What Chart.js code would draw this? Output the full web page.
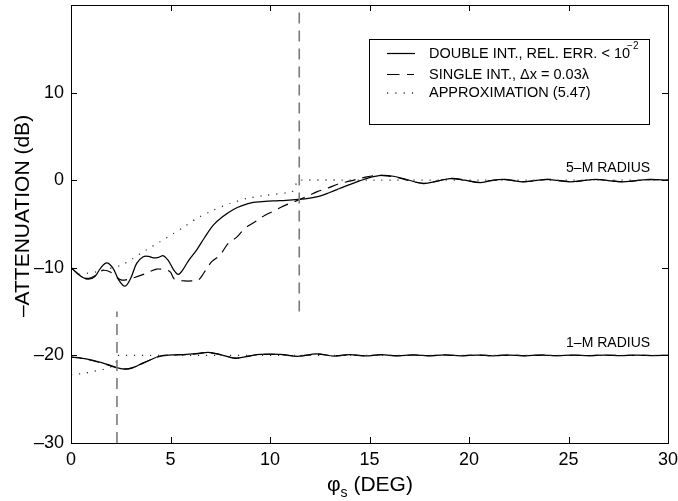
<!DOCTYPE html>
<html>
<head>
<meta charset="utf-8">
<script src="https://cdn.jsdelivr.net/npm/chart.js@4/dist/chart.umd.min.js"></script>
<style>
  html, body { margin: 0; padding: 0; background: #fff; }
  #wrap { width: 678px; height: 501px; }
</style>
</head>
<body>
<div id="wrap"><canvas id="c" width="678" height="501"></canvas></div>
<script>
// Attenuation vs. scan angle phi_s for the 5-m and 1-m radius cases.

// 5-m radius, double integral
const phiDouble5 = [0, 0.3, 0.6, 0.87, 1.2, 1.5, 1.79, 2.1, 2.4, 2.71, 3.0, 3.3, 3.63, 3.9, 4.14, 4.4, 4.64, 4.9, 5.15, 5.39, 5.6, 5.9, 6.31, 6.7, 7.15, 7.6, 8.16, 8.6, 9.16, 9.6, 10.17, 10.8, 11.42, 12.0, 12.5, 13.0, 13.5, 14.0, 14.5, 15.0, 15.6, 16.2, 16.9, 17.7, 18.4, 19.05, 19.8, 20.55, 21.1, 21.7, 22.2, 22.7, 23.3, 23.9, 24.5, 25.1, 25.7, 26.4, 27.0, 27.7, 28.4, 29.1, 30];
const attDouble5 = [-9.96, -10.6, -11.1, -11.3, -11.0, -10.0, -9.43, -10.0, -11.4, -12.1, -11.2, -9.5, -8.74, -8.7, -8.86, -8.8, -8.63, -9.2, -10.2, -10.76, -10.3, -9.2, -7.98, -6.6, -5.13, -4.2, -3.34, -2.9, -2.54, -2.45, -2.36, -2.3, -2.2, -2.05, -1.82, -1.4, -0.95, -0.5, -0.08, 0.3, 0.55, 0.45, 0.05, -0.38, -0.1, 0.19, 0.0, -0.27, -0.05, 0.08, -0.05, -0.19, -0.05, 0.1, -0.05, -0.19, -0.05, 0.08, -0.05, -0.19, -0.05, 0.08, 0.0];

// 5-m radius, single integral
const phiSingle5 = [0, 0.3, 0.6, 0.9, 1.2, 1.6, 2.0, 2.3, 2.55, 2.9, 3.2, 3.7, 4.0, 4.3, 4.8, 5.0, 5.2, 5.7, 6.07, 6.4, 6.7, 7.07, 7.49, 7.9, 8.33, 8.74, 9.25, 9.75, 10.2, 10.67, 11.2, 11.5, 12.0, 12.35, 12.85, 13.5, 14.0, 14.86, 15.36, 15.9, 16.5, 17.2, 17.8, 18.4, 19.1, 19.8, 20.5, 21.2, 21.8, 22.3, 22.8, 23.4, 24.0, 24.6, 25.2, 25.8, 26.5, 27.1, 27.8, 28.5, 29.2, 30];
const attSingle5 = [-9.96, -10.6, -11.1, -11.2, -10.9, -10.3, -10.5, -11.1, -11.4, -11.3, -11.1, -10.7, -10.4, -10.15, -10.26, -10.5, -11.3, -11.5, -11.5, -11.4, -10.5, -9.3, -8.55, -7.2, -6.5, -5.5, -4.75, -4.0, -3.5, -2.96, -2.47, -2.2, -1.7, -1.33, -0.95, -0.38, -0.11, 0.38, 0.55, 0.5, 0.25, -0.15, -0.35, -0.1, 0.2, 0.02, -0.25, -0.02, 0.1, -0.05, -0.18, -0.03, 0.1, -0.05, -0.18, -0.03, 0.08, -0.05, -0.18, -0.03, 0.06, 0.0];

// 5-m radius, approximation (5.47)
const phiApprox5 = [0, 0.6, 1.29, 1.9, 2.55, 3.1, 3.63, 4.05, 4.47, 5.0, 5.56, 6.31, 7.15, 7.99, 8.83, 9.83, 10.84, 11.17, 11.34, 11.5, 15, 20, 25, 30];
const attApprox5 = [-10.83, -10.7, -10.45, -10.1, -9.69, -8.95, -8.17, -7.6, -7.03, -6.3, -5.51, -4.37, -3.42, -2.66, -2.09, -1.71, -1.44, -1.22, -0.3, 0.0, 0.0, 0.0, 0.0, 0.0];

// 1-m radius, double integral
const phiDouble1 = [0, 0.5, 1.0, 1.5, 2.0, 2.4, 2.71, 3.1, 3.5, 4.0, 4.47, 5.1, 5.8, 6.4, 6.9, 7.5, 8.24, 8.9, 9.5, 10.5, 11.4, 12.35, 13.2, 14.0, 14.8, 15.6, 16.4, 17.2, 18.0, 18.8, 19.6, 20.4, 21.2, 22.0, 22.8, 23.6, 24.4, 25.2, 26.0, 26.8, 27.6, 28.4, 29.2, 30];
const attDouble1 = [-20.2, -20.3, -20.5, -20.8, -21.15, -21.45, -21.55, -21.4, -21.0, -20.5, -20.07, -19.95, -19.88, -19.78, -19.65, -19.9, -20.33, -20.1, -19.88, -19.88, -20.1, -19.84, -20.07, -19.92, -20.05, -19.92, -20.05, -19.95, -20.04, -19.95, -20.05, -19.96, -20.04, -19.96, -20.04, -19.96, -20.03, -19.97, -20.03, -19.97, -20.02, -19.98, -20.02, -20.0];

// 1-m radius, single integral
const phiSingle1 = [0, 0.5, 1.0, 1.5, 2.0, 2.4, 2.75, 3.1, 3.5, 4.0, 4.5, 5.1, 5.8, 6.4, 6.9, 7.5, 8.3, 8.9, 9.5, 10.5, 11.4, 12.4, 13.2, 14.0, 14.8, 15.6, 16.4, 17.2, 18.0, 18.8, 19.6, 20.4, 21.2, 22.0, 22.8, 23.6, 24.4, 25.2, 26.0, 26.8, 27.6, 28.4, 29.2, 30];
const attSingle1 = [-20.2, -20.32, -20.55, -20.85, -21.2, -21.5, -21.58, -21.42, -21.02, -20.5, -20.1, -19.97, -19.9, -19.8, -19.68, -19.92, -20.3, -20.08, -19.9, -19.9, -20.08, -19.86, -20.05, -19.93, -20.04, -19.93, -20.04, -19.96, -20.03, -19.96, -20.04, -19.97, -20.03, -19.97, -20.03, -19.97, -20.02, -19.98, -20.02, -19.98, -20.01, -19.99, -20.01, -20.0];

// 1-m radius, approximation (5.47)
const phiApprox1 = [0, 0.5, 1.0, 1.62, 2.0, 2.25, 2.32, 5, 10, 15, 20, 25, 30];
const attApprox1 = [-22.2, -22.1, -21.9, -21.6, -21.3, -21.0, -20.0, -20.0, -20.0, -20.0, -20.0, -20.0, -20.0];

// vertical marker lines at the transition angles
const markerPhi = [11.47, 2.31];
const markerFrom = [-15, -30];
const markerTo = [20, -15];

// axis ticks
const xTicks = [0, 5, 10, 15, 20, 25, 30];
const yTicks = [-30, -20, -10, 0, 10];

const FONT = '"Liberation Sans", Arial, Helvetica, sans-serif';

function pts(xs, ys) { return xs.map((x, i) => ({ x: x, y: ys[i] })); }

function curve(xs, ys, opts) {
  return Object.assign({
    data: pts(xs, ys), showLine: true, pointRadius: 0, borderColor: '#000',
    borderWidth: 1.25, tension: 0.35, fill: false, borderCapStyle: 'butt'
  }, opts);
}

const datasets = [];
markerPhi.forEach((p, i) => {
  datasets.push(curve([p, p], [markerFrom[i], markerTo[i]], {
    borderColor: '#7a7a7a', borderWidth: 1.6, borderDash: [11, 7], tension: 0
  }));
});
datasets.push(curve(phiApprox5, attApprox5, { borderColor: '#333', borderWidth: 1.3, borderDash: [1.2, 6.8], tension: 0.2 }));
datasets.push(curve(phiApprox1, attApprox1, { borderColor: '#333', borderWidth: 1.3, borderDash: [1.2, 6.8], tension: 0 }));
datasets.push(curve(phiSingle5, attSingle5, { borderWidth: 1.15, borderDash: [11, 7] }));
datasets.push(curve(phiSingle1, attSingle1, { borderWidth: 1.15, borderDash: [11, 7] }));
datasets.push(curve(phiDouble5, attDouble5, {}));
datasets.push(curve(phiDouble1, attDouble1, {}));

// frame, inward ticks, titles, curve labels and legend box
const decor = {
  id: 'decor',
  afterDatasetsDraw(chart) {
    const { ctx, chartArea: a, scales: { x, y } } = chart;
    ctx.save();
    ctx.strokeStyle = '#000';
    ctx.lineWidth = 1;
    ctx.setLineDash([]);
    ctx.strokeRect(Math.round(a.left) + 0.5, Math.round(a.top) + 0.5,
      Math.round(a.right - a.left), Math.round(a.bottom - a.top));
    const tl = 6;
    ctx.beginPath();
    xTicks.forEach(v => {
      const px = Math.round(x.getPixelForValue(v)) + 0.5;
      ctx.moveTo(px, a.bottom); ctx.lineTo(px, a.bottom - tl);
      ctx.moveTo(px, a.top); ctx.lineTo(px, a.top + tl);
    });
    yTicks.forEach(v => {
      const py = Math.round(y.getPixelForValue(v)) + 0.5;
      ctx.moveTo(a.left, py); ctx.lineTo(a.left + tl, py);
      ctx.moveTo(a.right, py); ctx.lineTo(a.right - tl, py);
    });
    ctx.stroke();

    // curve labels
    ctx.fillStyle = '#000';
    ctx.font = '14px ' + FONT;
    ctx.textAlign = 'right';
    ctx.textBaseline = 'middle';
    ctx.fillText('5\u2013M RADIUS', x.getPixelForValue(29.1), y.getPixelForValue(1.37));
    ctx.fillText('1\u2013M RADIUS', x.getPixelForValue(29.1), y.getPixelForValue(-18.64));

    // x title: phi_s (DEG)
    ctx.textAlign = 'left';
    ctx.textBaseline = 'alphabetic';
    ctx.font = '21px ' + FONT;
    let tx = 327;
    ctx.fillText('\u03C6', tx, 491);
    tx += ctx.measureText('\u03C6').width;
    ctx.font = '14px ' + FONT;
    ctx.fillText('s', tx, 497);
    tx += ctx.measureText('s').width;
    ctx.font = '21px ' + FONT;
    ctx.fillText(' (DEG)', tx, 491);

    // y title
    ctx.save();
    ctx.translate(29, 216);
    ctx.rotate(-Math.PI / 2);
    ctx.textAlign = 'center';
    ctx.fillText('\u2013ATTENUATION (dB)', 0, 0);
    ctx.restore();

    // legend
    const bx = 369.5, by = 39.5, bw = 280, bh = 85;
    ctx.fillStyle = '#fff';
    ctx.fillRect(bx, by, bw, bh);
    ctx.strokeStyle = '#000';
    ctx.lineWidth = 1;
    ctx.strokeRect(bx, by, bw, bh);
    const rows = [53.5, 74.5, 93];
    const sx0 = 387, sx1 = 414, txl = 429;
    // solid sample
    ctx.beginPath(); ctx.lineWidth = 1.25; ctx.setLineDash([]);
    ctx.moveTo(sx0, rows[0]); ctx.lineTo(sx1 + 1, rows[0]); ctx.stroke();
    // dashed sample
    ctx.beginPath(); ctx.lineWidth = 1.15; ctx.setLineDash([12.5, 7.5]);
    ctx.moveTo(sx0, rows[1]); ctx.lineTo(sx1, rows[1]); ctx.stroke();
    // dotted sample
    ctx.beginPath(); ctx.strokeStyle = '#333'; ctx.lineWidth = 1.3; ctx.setLineDash([1.2, 7.1]);
    ctx.moveTo(sx0, rows[2]); ctx.lineTo(sx1 + 1, rows[2]); ctx.stroke();
    ctx.setLineDash([]);
    ctx.fillStyle = '#000';
    ctx.font = '14.5px ' + FONT;
    ctx.textAlign = 'left';
    ctx.textBaseline = 'middle';
    const t1 = 'DOUBLE INT., REL. ERR. < 10';
    ctx.fillText(t1, txl, rows[0]);
    const w1 = ctx.measureText(t1).width;
    ctx.font = '10px ' + FONT;
    ctx.fillText('\u22122', txl + w1 - 3, rows[0] - 7);
    ctx.font = '14.5px ' + FONT;
    ctx.fillText('SINGLE INT., \u0394x = 0.03\u03BB', txl, rows[1]);
    ctx.fillText('APPROXIMATION (5.47)', txl, rows[2]);
    ctx.restore();
  }
};

new Chart(document.getElementById('c'), {
  type: 'scatter',
  data: { datasets: datasets },
  options: {
    responsive: false,
    animation: false,
    events: [],
    layout: { padding: { top: 5, right: 10, left: 0, bottom: 0 } },
    plugins: { legend: { display: false }, tooltip: { enabled: false } },
    scales: {
      x: {
        type: 'linear', min: 0, max: 30,
        afterFit(s) { s.height = 58; s.paddingLeft = 0; s.paddingRight = 0; },
        afterBuildTicks(s) { s.ticks = xTicks.map(v => ({ value: v })); },
        grid: { display: false, drawTicks: false },
        border: { display: false },
        ticks: { color: '#000', padding: 6, maxRotation: 0, font: { size: 18, family: FONT } }
      },
      y: {
        type: 'linear', min: -30, max: 20,
        afterFit(s) { s.width = 71; s.paddingTop = 0; s.paddingBottom = 0; },
        afterBuildTicks(s) { s.ticks = yTicks.map(v => ({ value: v })); },
        grid: { display: false, drawTicks: false },
        border: { display: false },
        ticks: {
          color: '#000', padding: 7, font: { size: 18, family: FONT },
          callback: v => (v < 0 ? '\u2013' + Math.abs(v) : String(v))
        }
      }
    }
  },
  plugins: [decor]
});
</script>
</body>
</html>
